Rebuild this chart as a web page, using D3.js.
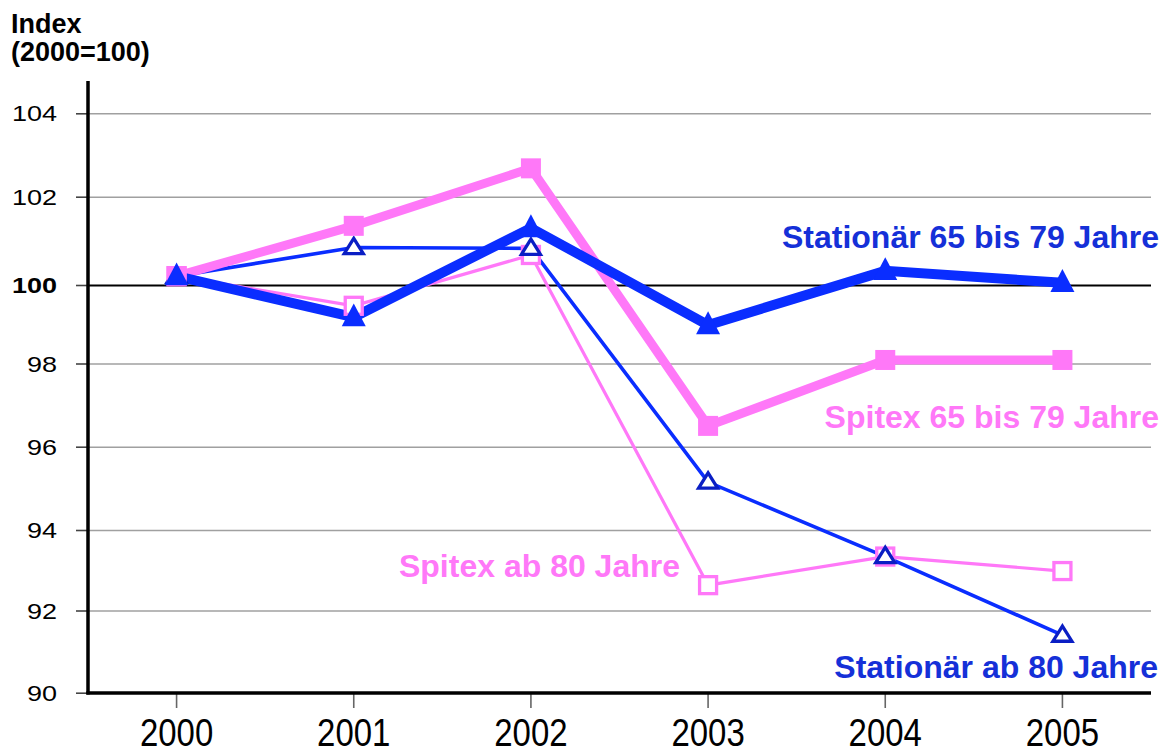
<!DOCTYPE html>
<html>
<head>
<meta charset="utf-8">
<script src="https://cdn.jsdelivr.net/npm/d3@7"></script>
<style>
  html, body { margin: 0; padding: 0; background: #fff; }
  svg { display: block; font-family: "Liberation Sans", Arial, sans-serif; }
</style>
</head>
<body>
<svg id="chart" width="1171" height="755"></svg>
<script>
// ---- data ----
const years = ["2000", "2001", "2002", "2003", "2004", "2005"];
const stationaer6579 = [100.2, 99.18, 101.29, 98.98, 100.32, 100.05];
const spitex6579     = [100.2, 101.34, 102.68, 96.5, 98.09, 98.09];
const stationaer80   = [100.2, 100.85, 100.83, 95.15, 93.34, 91.4];
const spitex80       = [100.2, 99.47, 100.68, 92.63, 93.34, 92.98];
const yTicks = [90, 92, 94, 96, 98, 100, 102, 104];
const seriesNames = ["Stationär 65 bis 79 Jahre", "Spitex 65 bis 79 Jahre", "Spitex ab 80 Jahre", "Stationär ab 80 Jahre"];
const titleLines = ["Index", "(2000=100)"];

// ---- layout ----
const svg = d3.select("#chart");
const pLeft = 88, pRight = 1151, pTop = 113, pBottom = 693;
const x = d3.scaleBand().domain(years).range([pLeft, pRight]);
const cx = d => x(d) + x.bandwidth() / 2;
// gridline positions of the original rendering (slightly uneven)
const y = d3.scaleLinear().domain(yTicks)
  .range([692.7, 610.5, 530, 446.7, 363.5, 285, 196.7, 113.3]);

const BLUE = "#0a2dff", BLUE_TXT = "#1530d8", BLUE_DARK = "#0a1ec4";
const PINK = "#ff78f8";

// gridlines
svg.append("g")
  .attr("transform", `translate(${pLeft},0)`)
  .call(d3.axisLeft(y).tickValues(yTicks.filter(v => v !== 90)).tickSize(-(pRight - pLeft)).tickFormat(""))
  .call(g => g.select(".domain").remove())
  .call(g => g.selectAll(".tick line")
    .attr("stroke", d => d === 100 ? "#000" : "#a0a0a0")
    .attr("stroke-width", d => d === 100 ? 1.8 : 1.6));

// left ticks
svg.append("g")
  .attr("transform", `translate(${pLeft},0)`)
  .call(d3.axisLeft(y).tickValues(yTicks).tickSize(12).tickFormat(""))
  .call(g => g.select(".domain").remove())
  .call(g => g.selectAll(".tick line").attr("stroke", "#444").attr("stroke-width", 1.6));

// y labels
yTicks.forEach(v => {
  svg.append("g")
    .attr("transform", `translate(57,${y(v)})`)
    .append("text")
    .attr("text-anchor", "end")
    .attr("dy", "0.36em")
    .attr("transform", "scale(1.2,1)")
    .attr("font-size", 22.5)
    .attr("font-weight", v === 100 ? "bold" : "normal")
    .attr("fill", "#000")
    .text(v);
});

// bottom ticks
svg.append("g")
  .attr("transform", `translate(0,${pBottom})`)
  .call(d3.axisBottom(x).tickSize(15).tickFormat(""))
  .call(g => g.select(".domain").remove())
  .call(g => g.selectAll(".tick line").attr("stroke", "#666").attr("stroke-width", 1.6));

// x labels
years.forEach(yr => {
  svg.append("g")
    .attr("transform", `translate(${cx(yr)},746)`)
    .append("text")
    .attr("text-anchor", "middle")
    .attr("transform", "scale(1.03,1.2)")
    .attr("font-size", 32)
    .attr("fill", "#000")
    .text(yr);
});

// axis lines
svg.append("line").attr("x1", pLeft).attr("x2", pLeft).attr("y1", 81).attr("y2", pBottom + 1.5)
  .attr("stroke", "#000").attr("stroke-width", 3.5);
svg.append("line").attr("x1", pLeft - 1.7).attr("x2", pRight).attr("y1", pBottom).attr("y2", pBottom)
  .attr("stroke", "#000").attr("stroke-width", 3.5);

// title
titleLines.forEach((t, i) => {
  svg.append("text").attr("x", 11).attr("y", 33 + i * 28)
    .attr("font-size", 27).attr("font-weight", "bold").attr("fill", "#000").text(t);
});

// series
const series = [
  { vals: spitex80, color: PINK, width: 3.2, marker: "square", fill: "#fff", stroke: PINK, size: 17, sw: 3.3 },
  { vals: stationaer80, color: BLUE, width: 3.6, marker: "triangle", fill: "#fff", stroke: BLUE_DARK, size: 19, sw: 3.3 },
  { vals: spitex6579, color: PINK, width: 9, marker: "square", fill: PINK, stroke: "none", size: 20, sw: 0 },
  { vals: stationaer6579, color: BLUE, width: 10, marker: "triangle", fill: BLUE, stroke: "none", size: 24, sw: 0 }
];

const line = d3.line().x((d, i) => cx(years[i])).y(d => y(d));
series.forEach(s => {
  svg.append("path").datum(s.vals).attr("d", line)
    .attr("fill", "none").attr("stroke", s.color).attr("stroke-width", s.width)
    .attr("stroke-linejoin", "miter").attr("stroke-miterlimit", 2);
});

series.forEach(s => {
  const g = svg.append("g");
  s.vals.forEach((v, i) => {
    const px = cx(years[i]), py = y(v), h = s.size / 2;
    if (s.marker === "square") {
      g.append("rect").attr("x", px - h).attr("y", py - h).attr("width", s.size).attr("height", s.size)
        .attr("fill", s.fill).attr("stroke", s.stroke).attr("stroke-width", s.sw);
    } else {
      const th = s.size * (s.fill === "#fff" ? 0.8 : 0.95);
      const pts = [[px, py - th * 0.6], [px + h, py + th * 0.4], [px - h, py + th * 0.4]];
      g.append("path").attr("d", "M" + pts.map(p => p.join(",")).join("L") + "Z")
        .attr("fill", s.fill).attr("stroke", s.stroke).attr("stroke-width", s.sw)
        .attr("stroke-linejoin", "miter");
    }
  });
});

// series labels
const labels = [
  { text: seriesNames[0], x: 1159, y: 248, color: BLUE_TXT, anchor: "end" },
  { text: seriesNames[1], x: 1159, y: 428, color: PINK, anchor: "end" },
  { text: seriesNames[2], x: 680, y: 577, color: PINK, anchor: "end" },
  { text: seriesNames[3], x: 1158, y: 678, color: BLUE_TXT, anchor: "end" }
];
labels.forEach(l => {
  svg.append("text").attr("x", l.x).attr("y", l.y).attr("text-anchor", l.anchor)
    .attr("font-size", 32).attr("font-weight", "bold").attr("fill", l.color).text(l.text);
});
</script>
</body>
</html>
